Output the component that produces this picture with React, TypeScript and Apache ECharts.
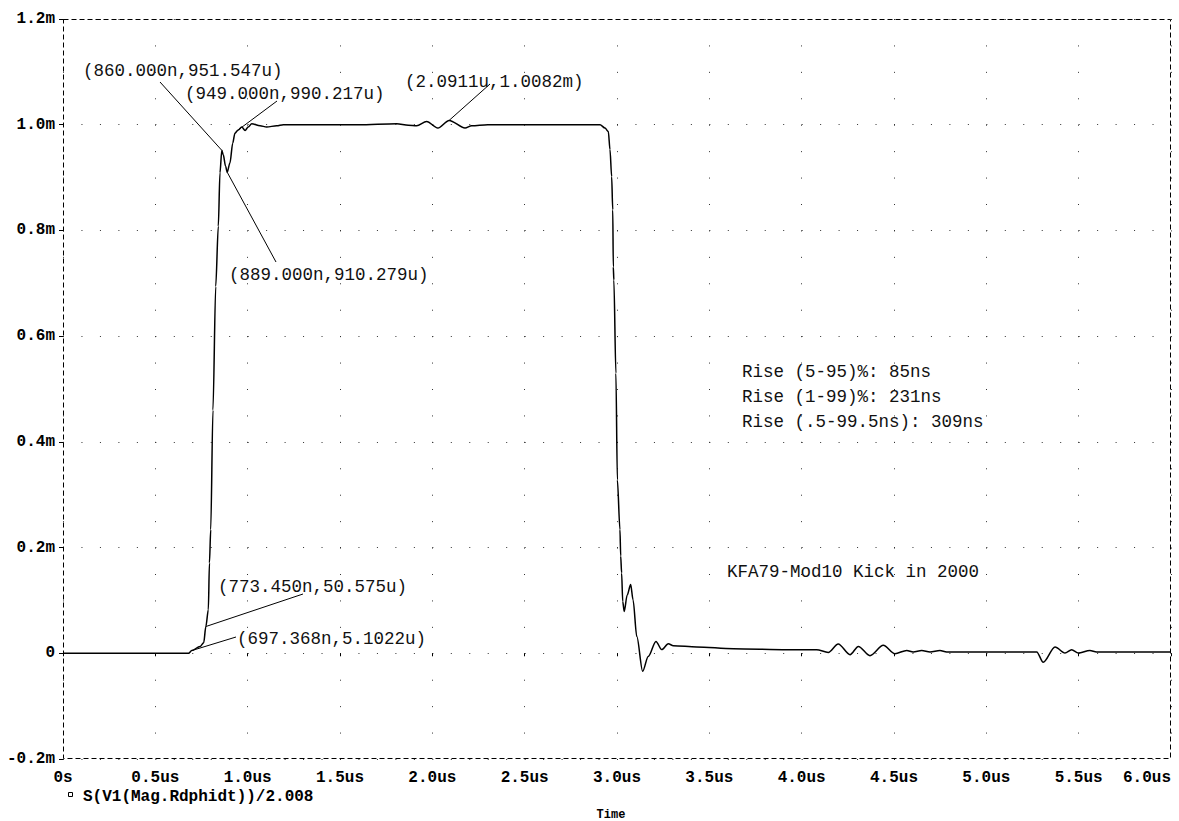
import React, { useEffect, useRef } from "react";
import * as echarts from "echarts";

// time in microseconds
const times: number[] = [
  0, 0.68, 0.697, 0.742, 0.762, 0.7735, 0.787, 0.793, 0.8, 0.812, 0.827, 0.841, 0.85, 0.86,
  0.868, 0.88, 0.889, 0.904, 0.919, 0.931, 0.949, 0.968, 0.986, 1.003, 1.022, 1.067, 1.103,
  1.157, 1.193, 1.4, 1.6, 1.807, 1.87, 1.915, 1.969, 2.03, 2.0911, 2.177, 2.213, 2.3, 2.6,
  2.908, 2.935, 2.953, 2.962, 2.971, 2.977, 2.98, 2.983, 2.994, 3.002, 3.016, 3.02, 3.025,
  3.031, 3.039, 3.055, 3.074, 3.087, 3.107, 3.139, 3.169, 3.211, 3.242, 3.278, 3.305, 3.431,
  3.63, 3.919, 4.081, 4.144, 4.198, 4.262, 4.307, 4.37, 4.442, 4.505, 4.569, 4.604, 4.65,
  4.695, 4.749, 4.785, 5.273, 5.308, 5.372, 5.426, 5.462, 5.498, 5.561, 5.597, 6.0,
];
// value in milli-units
const values: number[] = [
  0, 0, 0.0051, 0.013, 0.02, 0.0506, 0.0825, 0.171, 0.234, 0.46, 0.694, 0.808, 0.909, 0.9515,
  0.943, 0.922, 0.9103, 0.9276, 0.965, 0.984, 0.9902, 0.9957, 0.989, 0.9957, 1.002, 0.998, 0.9957,
  0.998, 1.0, 1.0, 1.0, 1.002, 0.999, 0.998, 1.006, 0.9937, 1.0082, 0.9937, 0.998, 1.0, 1.0,
  1.0, 0.9937, 0.987, 0.953, 0.902, 0.839, 0.731, 0.706, 0.53, 0.328, 0.234, 0.184, 0.152,
  0.098, 0.079, 0.11, 0.13, 0.101, 0.032, -0.034, -0.006, 0.0225, 0.007, 0.018, 0.0144, 0.012,
  0.0087, 0.0068, 0.0068, 0.0017, 0.0176, -0.0026, 0.013, -0.0045, 0.015, -0.0008, 0.0055, 0.0025, 0.0055,
  0.0025, 0.0055, 0.0025, 0.0025, -0.017, 0.012, 0.0006, 0.0068, 0.0006, 0.0055, 0.0025, 0.0025,
];

const seriesName = "S(V1(Mag.Rdphidt))/2.008";
const xAxisTitle = "Time";

// cursor annotations: label text and the data point it marks
const annoLabels: string[] = [
  "(860.000n,951.547u)",
  "(949.000n,990.217u)",
  "(889.000n,910.279u)",
  "(2.0911u,1.0082m)",
  "(773.450n,50.575u)",
  "(697.368n,5.1022u)",
];
const annoTimes: number[] = [0.86, 0.949, 0.889, 2.0911, 0.7735, 0.697];
const annoValues: number[] = [0.9515, 0.9902, 0.9103, 1.0082, 0.0506, 0.0051];
// layout (pixels): text left/middle anchor, leader line start
const annoTextPos: number[][] = [
  [83, 71], [185, 94], [229, 275], [405, 82], [218, 587], [237, 639],
];
const annoLineStart: number[][] = [
  [160, 82], [277, 101], [276, 262], [490, 84], [303, 594], [236, 637],
];

const notes: string[] = [
  "Rise (5-95)%: 85ns",
  "Rise (1-99)%: 231ns",
  "Rise (.5-99.5ns): 309ns",
  "KFA79-Mod10 Kick in 2000",
];
const notePos: number[][] = [[742, 372], [742, 397], [742, 422], [727, 572]];

const AXIS_FONT = '"Liberation Mono", "DejaVu Sans Mono", monospace';

export default function App() {
  const ref = useRef<HTMLDivElement>(null);
  useEffect(() => {
    if (!ref.current) return;
    const chart = echarts.init(ref.current, null, { renderer: "svg" });
    const gridLeft = 63, gridTop = 19, gridRight = 8, gridBottom = 62;
    const plotW = 1179 - gridLeft - gridRight;
    const plotH = 821 - gridTop - gridBottom;
    const xStepPx = plotW / 60; // 0.1us
    const yStepPx = plotH / 28; // 0.05m
    chart.setOption({
      animation: false,
      backgroundColor: "#fff",
      grid: {
        left: gridLeft, top: gridTop, right: gridRight, bottom: gridBottom,
        show: false,
      },
      xAxis: {
        type: "value", min: 0, max: 6, interval: 0.5,
        axisLine: { show: false },
        axisTick: { show: true, length: 3, lineStyle: { color: "#000" } },
        splitLine: {
          show: true,
          lineStyle: { color: "#333", width: 1, type: [1, yStepPx - 1] },
        },
        axisLabel: {
          color: "#000", fontFamily: AXIS_FONT, fontWeight: "bold", fontSize: 16,
          lineHeight: 16, margin: 11, alignMaxLabel: "right",
          formatter: (v: number) => (v === 0 ? "0s" : v.toFixed(1) + "us"),
        },
      },
      yAxis: {
        type: "value", min: -0.2, max: 1.2, interval: 0.2,
        axisLine: { show: false },
        axisTick: { show: true, length: 4, lineStyle: { color: "#000" } },
        splitLine: {
          show: true,
          lineStyle: { color: "#333", width: 1, type: [1, xStepPx - 1] },
        },
        axisLabel: {
          color: "#000", fontFamily: AXIS_FONT, fontWeight: "bold", fontSize: 16, margin: 8,
          formatter: (v: number) => (Math.abs(v) < 1e-9 ? "0" : v.toFixed(1) + "m"),
        },
      },
      series: [
        {
          name: seriesName,
          type: "line",
          data: times.map((t, i) => [t, values[i]]),
          showSymbol: false,
          symbol: "none",
          smooth: 0.3,
          smoothMonotone: "x",
          lineStyle: { color: "#000", width: 1.5 },
          z: 5,
        },
      ],
    });

    const g: any[] = [];
    // dashed plot frame
    g.push({
      type: "rect", silent: true, z: 1,
      shape: { x: gridLeft + 0.5, y: gridTop + 0.5, width: plotW - 1, height: plotH - 1 },
      style: { fill: "none", stroke: "#000", lineWidth: 1, lineDash: [5, 3] },
    });
    annoLabels.forEach((label, i) => {
      const p = chart.convertToPixel({ gridIndex: 0 }, [annoTimes[i], annoValues[i]]) as number[];
      g.push({
        type: "line", silent: true, z: 10,
        shape: { x1: annoLineStart[i][0], y1: annoLineStart[i][1], x2: p[0], y2: p[1] },
        style: { stroke: "#000", lineWidth: 1 },
      });
      g.push({
        type: "text", silent: true, z: 10,
        x: annoTextPos[i][0], y: annoTextPos[i][1],
        style: {
          text: label, fill: "#111", fontSize: 17.5, fontFamily: AXIS_FONT,
          align: "left", verticalAlign: "middle",
        },
      });
    });
    notes.forEach((n, i) => {
      g.push({
        type: "text", silent: true, z: 10,
        x: notePos[i][0], y: notePos[i][1],
        style: {
          text: n, fill: "#111", fontSize: 17.5, fontFamily: AXIS_FONT,
          align: "left", verticalAlign: "middle",
        },
      });
    });
    // legend
    g.push({
      type: "rect", silent: true,
      shape: { x: 68.5, y: 792.5, width: 4, height: 4 },
      style: { fill: "none", stroke: "#000", lineWidth: 1 },
    });
    g.push({
      type: "text", silent: true, x: 83, y: 797,
      style: {
        text: seriesName, fill: "#000", fontSize: 16, fontWeight: "bold",
        fontFamily: AXIS_FONT, align: "left", verticalAlign: "middle",
      },
    });
    g.push({
      type: "text", silent: true, x: 611, y: 815,
      style: {
        text: xAxisTitle, fill: "#000", fontSize: 12, fontWeight: "bold",
        fontFamily: AXIS_FONT, align: "center", verticalAlign: "middle",
      },
    });
    chart.setOption({ graphic: g });
    return () => chart.dispose();
  }, []);
  return (
    <div
      ref={ref}
      style={{ position: "absolute", left: 0, top: 0, width: 1179, height: 821, background: "#fff" }}
    />
  );
}
